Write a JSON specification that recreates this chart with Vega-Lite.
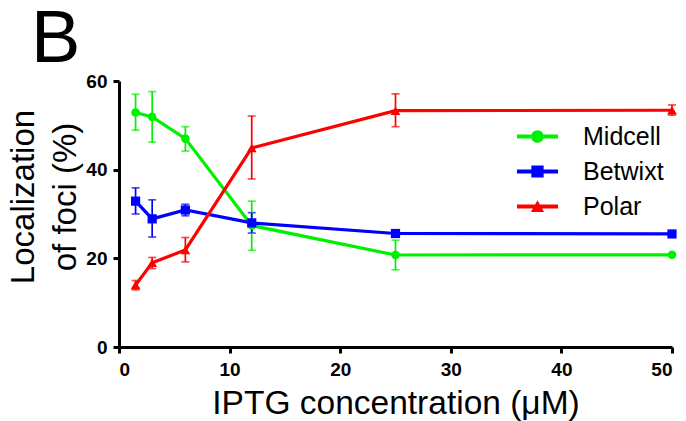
{
  "$schema": "https://vega.github.io/schema/vega-lite/v6.json",
  "autosize": {"type": "none"},
  "width": 553,
  "height": 266,
  "padding": {"left": 119, "top": 81, "right": 14, "bottom": 74},
  "background": "white",
  "config": {
    "view": {"stroke": null},
    "font": "Liberation Sans",
    "axis": {
      "grid": false,
      "domainColor": "black",
      "domainWidth": 3,
      "tickColor": "black",
      "tickWidth": 3,
      "tickSize": 6,
      "labelFont": "Liberation Sans",
      "labelFontWeight": "bold",
      "labelFontSize": 19,
      "labelColor": "black",
      "titleFont": "Liberation Sans",
      "titleFontWeight": "normal",
      "titleColor": "black"
    },
    "legend": {
      "title": null,
      "orient": "none",
      "legendX": 398,
      "legendY": 38,
      "padding": 0,
      "symbolSize": 1681,
      "clipHeight": 35,
      "rowPadding": 0,
      "labelFont": "Liberation Sans",
      "labelFontSize": 25,
      "labelColor": "black",
      "labelOffset": 25,
      "symbolStrokeWidth": 0,
      "symbolOpacity": 1
    }
  },
  "title": {
    "text": "B",
    "anchor": "start",
    "frame": "group",
    "font": "Liberation Sans",
    "fontSize": 74,
    "fontWeight": "normal",
    "color": "black",
    "baseline": "alphabetic",
    "dx": -88,
    "dy": 75,
    "offset": 11
  },
  "data": {
    "values": [
      {"series": "Midcell", "conc": 1.5, "mean": 52.9, "lo": 48.9, "hi": 57.0},
      {"series": "Midcell", "conc": 3, "mean": 51.9, "lo": 46.2, "hi": 57.6},
      {"series": "Midcell", "conc": 6, "mean": 47.0, "lo": 44.2, "hi": 49.7},
      {"series": "Midcell", "conc": 12, "mean": 27.4, "lo": 21.8, "hi": 32.9},
      {"series": "Midcell", "conc": 25, "mean": 20.75, "lo": 17.4, "hi": 24.1},
      {"series": "Midcell", "conc": 50, "mean": 20.8, "lo": 20.6, "hi": 21.0},
      {"series": "Betwixt", "conc": 1.5, "mean": 32.9, "lo": 30.0, "hi": 35.9},
      {"series": "Betwixt", "conc": 3, "mean": 28.9, "lo": 24.8, "hi": 33.2},
      {"series": "Betwixt", "conc": 6, "mean": 30.9, "lo": 29.6, "hi": 32.2},
      {"series": "Betwixt", "conc": 12, "mean": 28.0, "lo": 25.7, "hi": 30.3},
      {"series": "Betwixt", "conc": 25, "mean": 25.6, "lo": 25.4, "hi": 25.8},
      {"series": "Betwixt", "conc": 50, "mean": 25.5, "lo": 25.3, "hi": 25.7},
      {"series": "Polar", "conc": 1.5, "mean": 14.0, "lo": 12.9, "hi": 15.0},
      {"series": "Polar", "conc": 3, "mean": 19.0, "lo": 17.7, "hi": 20.2},
      {"series": "Polar", "conc": 6, "mean": 21.9, "lo": 19.2, "hi": 24.7},
      {"series": "Polar", "conc": 12, "mean": 44.9, "lo": 37.9, "hi": 52.1},
      {"series": "Polar", "conc": 25, "mean": 53.3, "lo": 49.7, "hi": 57.1},
      {"series": "Polar", "conc": 50, "mean": 53.4, "lo": 52.3, "hi": 54.6}
    ]
  },
  "encoding": {
    "x": {
      "field": "conc",
      "type": "quantitative",
      "scale": {"domain": [0, 50], "nice": false},
      "axis": {
        "values": [0, 10, 20, 30, 40, 50],
        "labelPadding": 7,
        "title": "IPTG concentration (μM)",
        "titleFontSize": 33.5,
        "titleBaseline": "alphabetic",
        "titleY": 66
      }
    },
    "color": {
      "field": "series",
      "type": "nominal",
      "scale": {"domain": ["Midcell", "Betwixt", "Polar"], "range": ["#00f000", "#0000ff", "#ff0000"]}
    }
  },
  "layer": [
    {
      "mark": {"type": "errorbar", "ticks": {"size": 8, "thickness": 1.7}, "thickness": 1.7},
      "encoding": {
        "y": {"field": "lo", "type": "quantitative", "title": ["Localization", "of foci (%)"]},
        "y2": {"field": "hi"}
      }
    },
    {
      "mark": {"type": "line", "strokeWidth": 3.2},
      "encoding": {
        "y": {
          "field": "mean",
          "type": "quantitative",
          "scale": {"domain": [0, 60], "nice": false},
          "title": ["Localization", "of foci (%)"],
          "axis": {
            "values": [0, 20, 40, 60],
            "labelPadding": 6,
            "titleFontSize": 33,
            "titleLineHeight": 42,
            "titleAngle": -90,
            "titleAlign": "center",
            "titleBaseline": "alphabetic",
            "titleX": -86,
            "titleY": 115.5
          }
        }
      }
    },
    {
      "transform": [{"filter": "datum.series === 'Midcell'"}],
      "mark": {"type": "point", "shape": "circle", "filled": true, "opacity": 1, "size": 75},
      "encoding": {"y": {"field": "mean", "type": "quantitative", "title": ["Localization", "of foci (%)"]}}
    },
    {
      "transform": [{"filter": "datum.series === 'Betwixt'"}],
      "mark": {"type": "point", "shape": "square", "filled": true, "opacity": 1, "size": 85},
      "encoding": {"y": {"field": "mean", "type": "quantitative", "title": ["Localization", "of foci (%)"]}}
    },
    {
      "transform": [{"filter": "datum.series === 'Polar'"}],
      "mark": {"type": "point", "shape": "triangle-up", "filled": true, "opacity": 1, "size": 95},
      "encoding": {"y": {"field": "mean", "type": "quantitative", "title": ["Localization", "of foci (%)"]}}
    },
    {
      "transform": [{"filter": "datum.conc < 0"}],
      "mark": {"type": "point", "filled": true, "opacity": 1},
      "encoding": {
        "y": {"field": "mean", "type": "quantitative", "title": ["Localization", "of foci (%)"]},
        "shape": {
          "field": "series",
          "type": "nominal",
          "scale": {
            "domain": ["Midcell", "Betwixt", "Polar"],
            "range": [
              "M-1,-0.095H-0.3V0.095H-1Z M0.3,-0.095H1V0.095H0.3Z M-0.31,0A0.31,0.31 0 1,0 0.31,0A0.31,0.31 0 1,0 -0.31,0Z",
              "M-1,-0.095H1V0.095H-1Z M-0.3,-0.29H0.3V0.29H-0.3Z",
              "M-1,-0.095H1V0.095H-1Z M0,-0.3L0.32,0.27H-0.32Z"
            ]
          }
        }
      }
    }
  ]
}
